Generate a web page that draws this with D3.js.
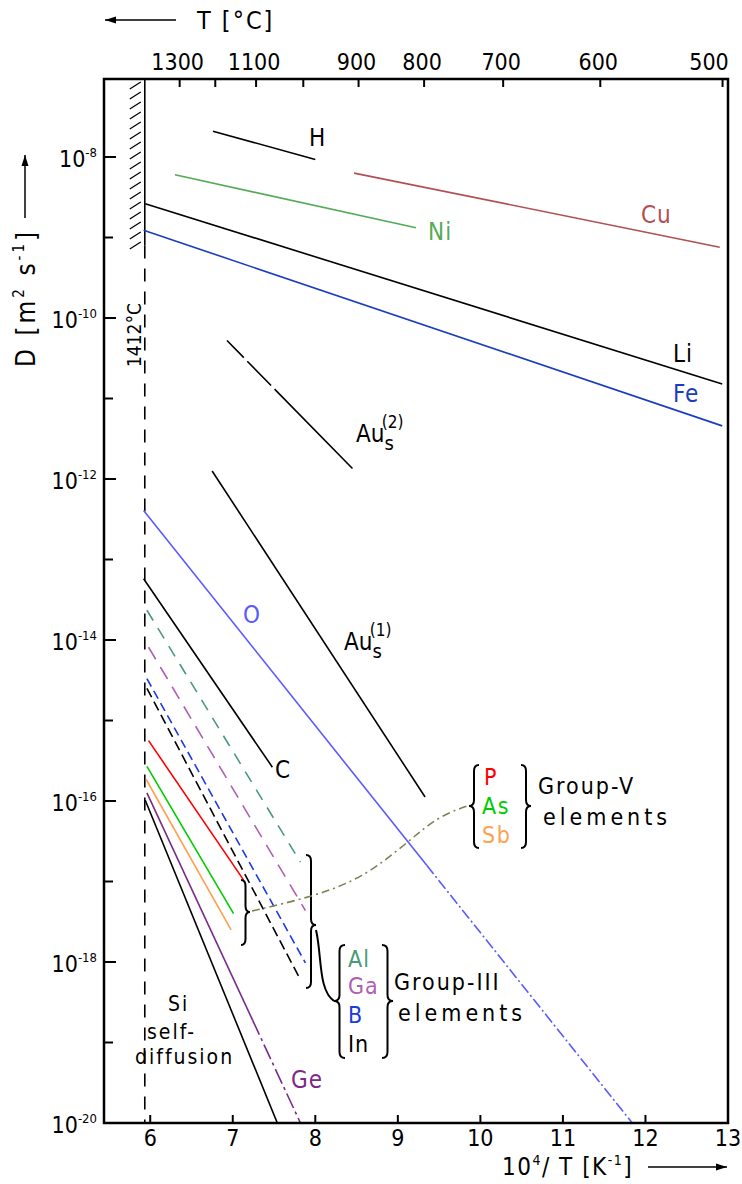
<!DOCTYPE html>
<html>
<head>
<meta charset="utf-8">
<script src="https://cdn.jsdelivr.net/npm/d3@7"></script>
<style>
body { margin: 0; background: #fff; }
text { font-family: "DejaVu Sans Condensed", "DejaVu Sans", sans-serif; fill: #000; }
</style>
</head>
<body>
<svg id="chart" width="742" height="1184"></svg>
<script>
// Data: straight Arrhenius segments, 10^4/T [1/K] and log10 D [m^2/s] at both ends
const species   = ["H", "Ni", "Cu", "Li", "Fe", "Au2", "Au1", "O", "C", "Al", "Ga", "B", "In", "P", "As", "Sb", "Ge", "Si"];
const invTStart = [6.76, 6.30, 8.47, 5.94, 5.92, 6.93, 6.75, 5.92, 5.92, 5.96, 5.98, 5.96, 5.96, 5.98, 5.96, 5.95, 5.96, 5.94];
const logDStart = [-7.68, -8.22, -8.20, -8.58, -8.91, -10.28, -11.90, -12.39, -13.24, -13.63, -14.09, -14.48, -14.60, -15.25, -15.57, -15.73, -15.90, -15.99];
const invTEnd   = [8.00, 9.22, 12.90, 12.93, 12.93, 8.45, 9.33, 11.84, 7.48, 7.82, 7.88, 7.88, 7.82, 7.13, 7.01, 6.98, 7.82, 7.54];
const logDEnd   = [-8.03, -8.88, -9.12, -10.82, -11.34, -11.87, -15.95, -20.0, -15.58, -16.76, -17.36, -18.01, -18.22, -16.98, -17.40, -17.60, -20.0, -20.0];

// axis ticks
const xTicks = [6, 7, 8, 9, 10, 11, 12, 13];
const yMajor = [-8, -10, -12, -14, -16, -18, -20];
const yMinor = [-9, -11, -13, -15, -17, -19];
const tempTicks = [1300, 1200, 1100, 1000, 900, 800, 700, 600, 500];
const tempLabels = [1300, 1100, 900, 800, 700, 600, 500];
const meltingC = 1412;

// styles
const styles = {
  H:   { color: "#000" },
  Ni:  { color: "#55aa55" },
  Cu:  { color: "#b05050" },
  Li:  { color: "#000" },
  Fe:  { color: "#1a3cc0" },
  Au2: { color: "#000", dash: "24,5,34,5,300,0" },
  Au1: { color: "#000" },
  O:   { color: "#5a5aff", solidUntil: 9.35, dash: "11,3,2,3" },
  C:   { color: "#000" },
  Al:  { color: "#4a9a7a", dash: "12,9" },
  Ga:  { color: "#b060b0", dash: "14,9" },
  B:   { color: "#1a3ce0", dash: "9,5" },
  In:  { color: "#000", dash: "10,5" },
  P:   { color: "#ff0000" },
  As:  { color: "#00cc00" },
  Sb:  { color: "#ffa050" },
  Ge:  { color: "#7a2a8a", solidUntil: 7.24, dash: "16,4,3,4" },
  Si:  { color: "#000" }
};

const svg = d3.select("#chart");
const plot = { left: 104, right: 728, top: 79, bottom: 1123 };

const x = d3.scaleLinear().domain([5.44, 13]).range([plot.left, plot.right]);
const y = d3.scaleLog().domain([1e-20, 1e-8]).range([plot.bottom, 157]);

svg.append("defs").append("clipPath").attr("id", "clip")
  .append("rect")
  .attr("x", plot.left).attr("y", plot.top)
  .attr("width", plot.right - plot.left).attr("height", plot.bottom - plot.top);

const lines = svg.append("g").attr("clip-path", "url(#clip)");
const line = d3.line().x(d => x(d[0])).y(d => y(10 ** d[1]));

// melting point line + hatching
const xm = 1e4 / (meltingC + 273.15);
const hatchEnd = 10 ** -9.1;
lines.append("line")
  .attr("x1", x(xm)).attr("x2", x(xm))
  .attr("y1", plot.top).attr("y2", y(hatchEnd))
  .attr("stroke", "#000").attr("stroke-width", 1.6);
lines.append("line")
  .attr("x1", x(xm)).attr("x2", x(xm))
  .attr("y1", y(hatchEnd)).attr("y2", plot.bottom)
  .attr("stroke", "#000").attr("stroke-width", 1.6)
  .attr("stroke-dasharray", "13,10");
const hatchY = d3.range(plot.top + 6, y(hatchEnd), 10);
lines.selectAll(".hatch").data(hatchY).enter().append("line")
  .attr("class", "hatch")
  .attr("x1", x(xm) - 15).attr("y1", d => d + 4)
  .attr("x2", x(xm) - 4).attr("y2", d => d - 3)
  .attr("stroke", "#000").attr("stroke-width", 1.3);

// species lines
species.forEach((s, i) => {
  const st = styles[s];
  const p0 = [invTStart[i], logDStart[i]];
  const p1 = [invTEnd[i], logDEnd[i]];
  if (st.solidUntil) {
    const t = (st.solidUntil - p0[0]) / (p1[0] - p0[0]);
    const pm = [st.solidUntil, p0[1] + t * (p1[1] - p0[1])];
    lines.append("path").attr("d", line([p0, pm]))
      .attr("fill", "none").attr("stroke", st.color).attr("stroke-width", 1.6);
    lines.append("path").attr("d", line([pm, p1]))
      .attr("fill", "none").attr("stroke", st.color).attr("stroke-width", 1.6)
      .attr("stroke-dasharray", st.dash);
  } else {
    lines.append("path").attr("d", line([p0, p1]))
      .attr("fill", "none").attr("stroke", st.color).attr("stroke-width", 1.6)
      .attr("stroke-dasharray", st.dash || null);
  }
});

// frame
svg.append("rect")
  .attr("x", plot.left).attr("y", plot.top)
  .attr("width", plot.right - plot.left).attr("height", plot.bottom - plot.top)
  .attr("fill", "none").attr("stroke", "#000").attr("stroke-width", 2.5);

// bottom axis
svg.selectAll(".xt").data(xTicks).enter().append("line")
  .attr("x1", d => x(d)).attr("x2", d => x(d))
  .attr("y1", plot.bottom).attr("y2", plot.bottom - 8)
  .attr("stroke", "#000").attr("stroke-width", 2);
svg.selectAll(".xl").data(xTicks).enter().append("text")
  .attr("x", d => x(d)).attr("y", plot.bottom + 23)
  .attr("text-anchor", "middle").attr("font-size", 23)
  .text(d => d);

// left axis
svg.selectAll(".ytM").data(yMajor).enter().append("line")
  .attr("x1", plot.left).attr("x2", plot.left + 12)
  .attr("y1", d => y(10 ** d)).attr("y2", d => y(10 ** d))
  .attr("stroke", "#000").attr("stroke-width", 2);
svg.selectAll(".ytm").data(yMinor).enter().append("line")
  .attr("x1", plot.left).attr("x2", plot.left + 9)
  .attr("y1", d => y(10 ** d)).attr("y2", d => y(10 ** d))
  .attr("stroke", "#000").attr("stroke-width", 2);
const yl = svg.selectAll(".yl").data(yMajor).enter().append("text")
  .attr("x", 97).attr("y", d => y(10 ** d) + 10)
  .attr("text-anchor", "end").attr("font-size", 23);
yl.append("tspan").text("10");
yl.append("tspan").attr("dy", -10).attr("font-size", 13).text(d => "-" + (-d));

// top axis (temperature)
const tx = c => x(1e4 / (c + 273.15));
svg.selectAll(".tt").data(tempTicks).enter().append("line")
  .attr("x1", tx).attr("x2", tx)
  .attr("y1", plot.top).attr("y2", plot.top + 8)
  .attr("stroke", "#000").attr("stroke-width", 2);
svg.selectAll(".tl").data(tempLabels).enter().append("text")
  .attr("x", d => Math.min(tx(d) - 2, plot.right - 19)).attr("y", plot.top - 9)
  .attr("text-anchor", "middle").attr("font-size", 23)
  .text(d => d);

// arrows helper
function arrow(x1, y1, x2, y2) {
  svg.append("line").attr("x1", x1).attr("y1", y1).attr("x2", x2).attr("y2", y2)
    .attr("stroke", "#000").attr("stroke-width", 1.5);
  const a = Math.atan2(y2 - y1, x2 - x1), L = 11, w = 3.5;
  const pts = [
    [x2, y2],
    [x2 - L * Math.cos(a) + w * Math.sin(a), y2 - L * Math.sin(a) - w * Math.cos(a)],
    [x2 - L * Math.cos(a) - w * Math.sin(a), y2 - L * Math.sin(a) + w * Math.cos(a)]
  ];
  svg.append("polygon").attr("points", pts.map(p => p.join(",")).join(" ")).attr("fill", "#000");
}

// axis titles
arrow(176, 20, 105, 20);
svg.append("text").attr("x", 197).attr("y", 29).attr("font-size", 25)
  .attr("letter-spacing", 2).text("T [°C]");

const bt = svg.append("text").attr("x", 502).attr("y", 1175).attr("font-size", 24)
  .attr("letter-spacing", 1.5);
bt.append("tspan").text("10");
bt.append("tspan").attr("dy", -10).attr("font-size", 14).text("4");
bt.append("tspan").attr("dy", 10).text("/ T [K");
bt.append("tspan").attr("dy", -10).attr("font-size", 14).text("-1");
bt.append("tspan").attr("dy", 10).text("]");
arrow(648, 1167, 727, 1167);

const lt = svg.append("text").attr("transform", "translate(35,367) rotate(-90)")
  .attr("font-size", 26).attr("letter-spacing", 3);
lt.append("tspan").text("D [m");
lt.append("tspan").attr("dy", -11).attr("font-size", 15).text("2");
lt.append("tspan").attr("dy", 11).text(" s");
lt.append("tspan").attr("dy", -11).attr("font-size", 15).text("-1");
lt.append("tspan").attr("dy", 11).text("]");
arrow(25, 218, 25, 155);

svg.append("text").attr("transform", `translate(${x(xm) - 4},367) rotate(-90)`)
  .attr("font-size", 19).text("1412°C");

// line labels
const labels = [
  { t: "H",  x: 309, y: 146, c: "#000" },
  { t: "Ni", x: 428, y: 240, c: styles.Ni.color },
  { t: "Cu", x: 641, y: 223, c: styles.Cu.color },
  { t: "Li", x: 673, y: 362, c: "#000" },
  { t: "Fe", x: 673, y: 402, c: styles.Fe.color },
  { t: "O",  x: 243, y: 623, c: styles.O.color },
  { t: "C",  x: 275, y: 778, c: "#000" },
  { t: "Ge", x: 291, y: 1088, c: styles.Ge.color }
];
svg.selectAll(".lab").data(labels).enter().append("text")
  .attr("x", d => d.x).attr("y", d => d.y)
  .attr("font-size", 24).attr("letter-spacing", 1)
  .style("fill", d => d.c).text(d => d.t);

function auLabel(x0, y0, sup) {
  const t = svg.append("text").attr("x", x0).attr("y", y0).attr("font-size", 24);
  t.append("tspan").text("Au");
  t.append("tspan").attr("dy", 8).attr("font-size", 20).text("s");
  t.append("tspan").attr("dx", -12).attr("dy", -22).attr("font-size", 17).text(sup);
}
auLabel(356, 442, "(2)");
auLabel(344, 650, "(1)");

// Si self-diffusion
[["Si", 168, 1011], ["self-", 147, 1039], ["diffusion", 135, 1064]].forEach(d => {
  svg.append("text").attr("x", d[1]).attr("y", d[2]).attr("font-size", 21)
    .attr("letter-spacing", 2).text(d[0]);
});

// braces
function brace(x0, y0, y1, w, tip) {
  const xmid = x0 + w / 2, xt = x0 + w, r = 6;
  const d = `M${x0},${y0} Q${xmid},${y0} ${xmid},${y0 + r} L${xmid},${tip - r} Q${xmid},${tip} ${xt},${tip}` +
            ` Q${xmid},${tip} ${xmid},${tip + r} L${xmid},${y1 - r} Q${xmid},${y1} ${x0},${y1}`;
  svg.append("path").attr("d", d).attr("fill", "none").attr("stroke", "#000").attr("stroke-width", 2);
}
brace(241, 880, 945, 9, 912);
brace(306, 855, 988, 10, 925);
brace(345, 945, 1058, -11, 1001);
brace(382, 945, 1058, 11, 1001);
brace(479, 765, 848, -10, 806);
brace(521, 765, 848, 10, 806);

svg.append("path").attr("d", "M316,930 C322,955 318,990 334,1001")
  .attr("fill", "none").attr("stroke", "#000").attr("stroke-width", 2);

// connector between the two groups
const conn = [[252, 911], [312, 897], [363, 878], [407, 843], [437, 817], [467, 806]];
svg.append("path")
  .attr("d", d3.line().curve(d3.curveBasis)(conn))
  .attr("fill", "none").attr("stroke", "#808055").attr("stroke-width", 1.6)
  .attr("stroke-dasharray", "8,4,2,4");

// group lists
const g5 = [["P", styles.P.color, 785], ["As", styles.As.color, 814], ["Sb", styles.Sb.color, 843]];
g5.forEach(d => svg.append("text").attr("x", d[0] === "P" ? 484 : 482).attr("y", d[2])
  .attr("font-size", 23).attr("letter-spacing", 1.5).style("fill", d[1]).text(d[0]));
svg.append("text").attr("x", 538).attr("y", 794).attr("font-size", 23).attr("letter-spacing", 2).text("Group-V");
svg.append("text").attr("x", 543).attr("y", 825).attr("font-size", 23).attr("letter-spacing", 4).text("elements");

const g3 = [["Al", styles.Al.color, 967], ["Ga", styles.Ga.color, 994], ["B", styles.B.color, 1023], ["In", "#000", 1052]];
g3.forEach(d => svg.append("text").attr("x", 348).attr("y", d[2])
  .attr("font-size", 23).attr("letter-spacing", 1).style("fill", d[1]).text(d[0]));
svg.append("text").attr("x", 394).attr("y", 990).attr("font-size", 23).attr("letter-spacing", 2).text("Group-III");
svg.append("text").attr("x", 398).attr("y", 1021).attr("font-size", 23).attr("letter-spacing", 4).text("elements");
</script>
</body>
</html>
